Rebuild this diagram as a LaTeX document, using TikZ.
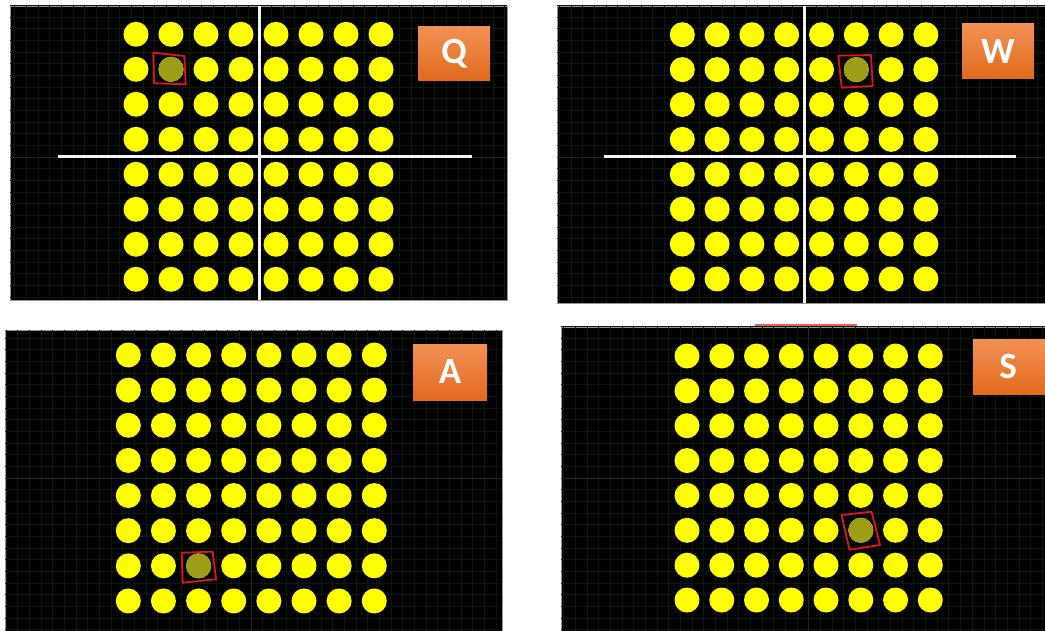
\documentclass[tikz,border=0pt]{standalone}
\usepackage{fontspec}
\newfontfamily\lab{Carlito}
\definecolor{dot}{RGB}{255,255,0}
\definecolor{dimdot}{RGB}{158,158,22}
\definecolor{gridc}{RGB}{9,26,9}
\definecolor{gridm}{RGB}{18,50,18}
\definecolor{panelb}{RGB}{150,150,150}
\definecolor{axisw}{RGB}{242,242,242}
\definecolor{orTop}{RGB}{242,144,84}
\definecolor{orBot}{RGB}{226,106,28}
\definecolor{markred}{RGB}{225,20,30}
\definecolor{pinkline}{RGB}{240,90,90}
\tikzset{
  panel/.style={fill=black, draw=panelb, line width=0.8pt},
  axisline/.style={draw=axisw, line width=3pt},
  keybox/.style={rectangle, top color=orTop, bottom color=orBot, draw=none,
    text=white, inner sep=0pt, font=\lab\bfseries\fontsize{37}{37}\selectfont},
  markbox/.style={draw=markred, line width=1.8pt, line join=round},
  gridline/.style={draw=gridc, line width=0.5pt},
  gridmajor/.style={draw=gridm, line width=0.7pt}
}
\newcommand\panelgrid[6]{%
  \begin{scope}
    \clip (#1,#2) rectangle (#3,#4);
    \foreach \k in {-45,...,45} {
      \draw[gridline] (#5+\k*11.67,#2) -- (#5+\k*11.67,#4);
      \draw[gridline] (#1,#6+\k*11.67) -- (#3,#6+\k*11.67);
    }
    \draw[gridmajor] (#5,#2) -- (#5,#4);
    \draw[gridmajor] (#1,#6) -- (#3,#6);
  \end{scope}}
\newcommand\mydotgrid[4]{%
  \foreach \i in {0,...,7} {
    \foreach \j in {0,...,7} {
      \fill[dot] (#1+\i*#3,#2+\j*#4) circle[radius=12.5];
    }
  }}
\begin{document}
\begin{tikzpicture}[x=1pt,y=-1pt]
\useasboundingbox (0,0) rectangle (1045,631);
\clip (0,0) rectangle (1045,631);
\fill[white] (0,0) rectangle (1045,631);

% ---------- Panel Q ----------
\draw[panel] (10,6) rectangle (507,300);
\panelgrid{10}{6}{507}{300}{259.5}{157}
\draw[axisline] (259.5,6) -- (259.5,300);
\draw[axisline] (58,157) -- (472,157);
\mydotgrid{136}{34.3}{35}{35}
\fill[dimdot] (171,69.3) circle[radius=12.5];
\draw[markbox] (153.3,52.7) -- (184.3,56) -- (185.7,84.3) -- (154,83.3) -- cycle;
\node[keybox, minimum width=72pt, minimum height=54pt] (kq) at (454,54) {Q};

% ---------- Panel W ----------
\draw[panel] (557,6) rectangle (1050,303);
\panelgrid{557}{6}{1050}{303}{804.3}{157}
\draw[axisline] (804.3,6) -- (804.3,303);
\draw[axisline] (604,157) -- (1016,157);
\mydotgrid{682.3}{34.7}{34.8}{34.9}
\fill[dimdot] (856.3,69.6) circle[radius=12.5];
\draw[markbox] (838.3,55.7) -- (871,55) -- (872.7,86) -- (841.7,87.7) -- cycle;
\node[keybox, minimum width=72pt, minimum height=55pt] (kw) at (998,51.5) {W};

% ---------- Panel A ----------
\draw[panel] (5,330) rectangle (502,640);
\panelgrid{5}{330}{502}{640}{251}{478}
\mydotgrid{128.3}{355}{35.14}{35.14}
\fill[dimdot] (198.6,565.8) circle[radius=12.5];
\draw[markbox] (181.7,552.7) -- (212.7,551.7) -- (216,579.3) -- (182.7,582.7) -- cycle;
\node[keybox, minimum width=74pt, minimum height=56pt] (ka) at (450,372) {A};

% ---------- Panel S ----------
\draw[panel] (561,327) rectangle (1050,640);
\draw[pinkline, line width=2.4pt] (755,325.2) -- (857,325.2);
\panelgrid{561}{327}{1050}{640}{808.7}{478}
\mydotgrid{687}{356}{34.76}{34.86}
\fill[dimdot] (860.8,530.3) circle[radius=12.5];
\draw[markbox] (841.5,515) -- (871.5,511.7) -- (880,545) -- (849.5,549.8) -- cycle;
\node[keybox, minimum width=74pt, minimum height=55pt] (ks) at (1010,366.5) {};
\node[text=white, font=\lab\bfseries\fontsize{37}{37}\selectfont] (ts) at (1008,366.5) {S};
\end{tikzpicture}
\end{document}
